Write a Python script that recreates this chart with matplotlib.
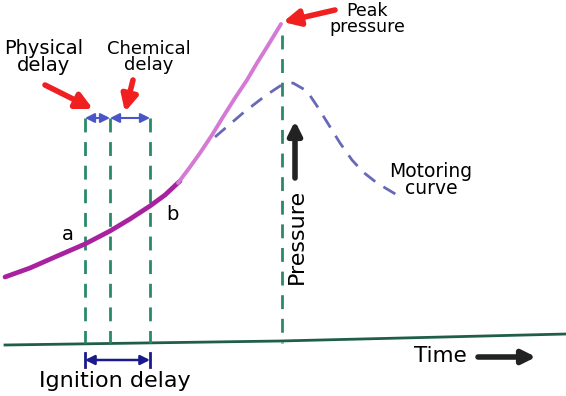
import matplotlib.pyplot as plt

# pressure curve (pixel-space sketch coordinates, y down)
p_lo_x = [5, 30, 55, 85, 110, 130, 150, 165, 180]
p_lo_y = [277, 268, 257, 244, 231, 219, 206, 195, 181]
p_hi_x = [178, 190, 200, 212, 223, 235, 247, 257, 267, 281]
p_hi_y = [183, 167, 153, 135, 117, 98, 80, 63, 47, 24]

# motoring curve
m_x = [215, 243, 265, 280, 293, 307, 317, 327, 340, 352, 363, 377, 397]
m_y = [137, 113, 96, 86, 83, 91, 106, 122, 143, 160, 172, 183, 195]

# vertical markers
v_x = [85, 110, 150, 282]
v_top = [118, 118, 118, 35]
base_x = [5, 280, 566]
base_y = [345, 341, 334]

fig = plt.figure(figsize=(5.66, 3.96), dpi=100)
ax = fig.add_axes([0, 0, 1, 1])
ax.set_xlim(0, 566)
ax.set_ylim(396, 0)
ax.axis('off')

font = 'DejaVu Sans'
green = '#2a8a68'

ax.plot(base_x, base_y, color='#1f5e48', lw=2)
for x, t in zip(v_x, v_top):
    ax.plot([x, x], [t, 343], color=green, lw=2, dashes=(5, 3.5))

ax.plot(p_lo_x, p_lo_y, color='#a8229f', lw=3.4, solid_capstyle='round')
ax.plot(p_hi_x, p_hi_y, color='#d47ad4', lw=2.8, solid_capstyle='round')
ax.plot(m_x, m_y, color='#6868b8', lw=2, dashes=(5, 3.5))

# delay arrows
blue = '#4a55c8'
ax.annotate('', xy=(85, 118), xytext=(110, 118),
            arrowprops=dict(arrowstyle='<|-|>', color=blue, lw=1.5, mutation_scale=14,
                            shrinkA=0, shrinkB=0))
ax.annotate('', xy=(110, 118), xytext=(150, 118),
            arrowprops=dict(arrowstyle='<|-|>', color=blue, lw=1.5, mutation_scale=14,
                            shrinkA=0, shrinkB=0))
navy = '#1a1a8c'
ax.annotate('', xy=(85, 360), xytext=(150, 360),
            arrowprops=dict(arrowstyle='<|-|>', color=navy, lw=1.8, mutation_scale=14,
                            shrinkA=0, shrinkB=0))
for x in [85, 150]:
    ax.plot([x, x], [353, 367], color=navy, lw=2)

# red arrows
red = '#f02020'
for tail, tip in [((45, 85), (93, 109)), ((133, 80), (125, 112)), ((335, 10), (283, 22))]:
    ax.annotate('', xy=tip, xytext=tail,
                arrowprops=dict(arrowstyle='-|>', color=red, lw=4, mutation_scale=24,
                                shrinkA=0, shrinkB=0))

# black arrows
ax.annotate('', xy=(295, 121), xytext=(295, 178),
            arrowprops=dict(arrowstyle='-|>', color='#222222', lw=4, mutation_scale=20,
                            shrinkA=0, shrinkB=0))
ax.annotate('', xy=(536, 357), xytext=(478, 357),
            arrowprops=dict(arrowstyle='-|>', color='#222222', lw=4, mutation_scale=20,
                            shrinkA=0, shrinkB=0))

kw = dict(family=font, color='#000000', ha='center', va='center', linespacing=0.85)
ax.text(44, 57, 'Physical\ndelay', fontsize=14, **kw)
ax.text(149, 57, 'Chemical\ndelay', fontsize=13, **kw)
ax.text(367, 19, 'Peak\npressure', fontsize=12.5, **kw)
ax.text(431, 180, 'Motoring\ncurve', fontsize=13.5, **kw)
ax.text(297, 236, 'Pressure', fontsize=16, rotation=90, **kw)
ax.text(440, 356, 'Time', fontsize=15.5, **kw)
ax.text(115, 381, 'Ignition delay', fontsize=16, **kw)
ax.text(68, 235, 'a', fontsize=14, **kw)
ax.text(172, 214, 'b', fontsize=14, **kw)

fig.savefig('out.png', dpi=100)
